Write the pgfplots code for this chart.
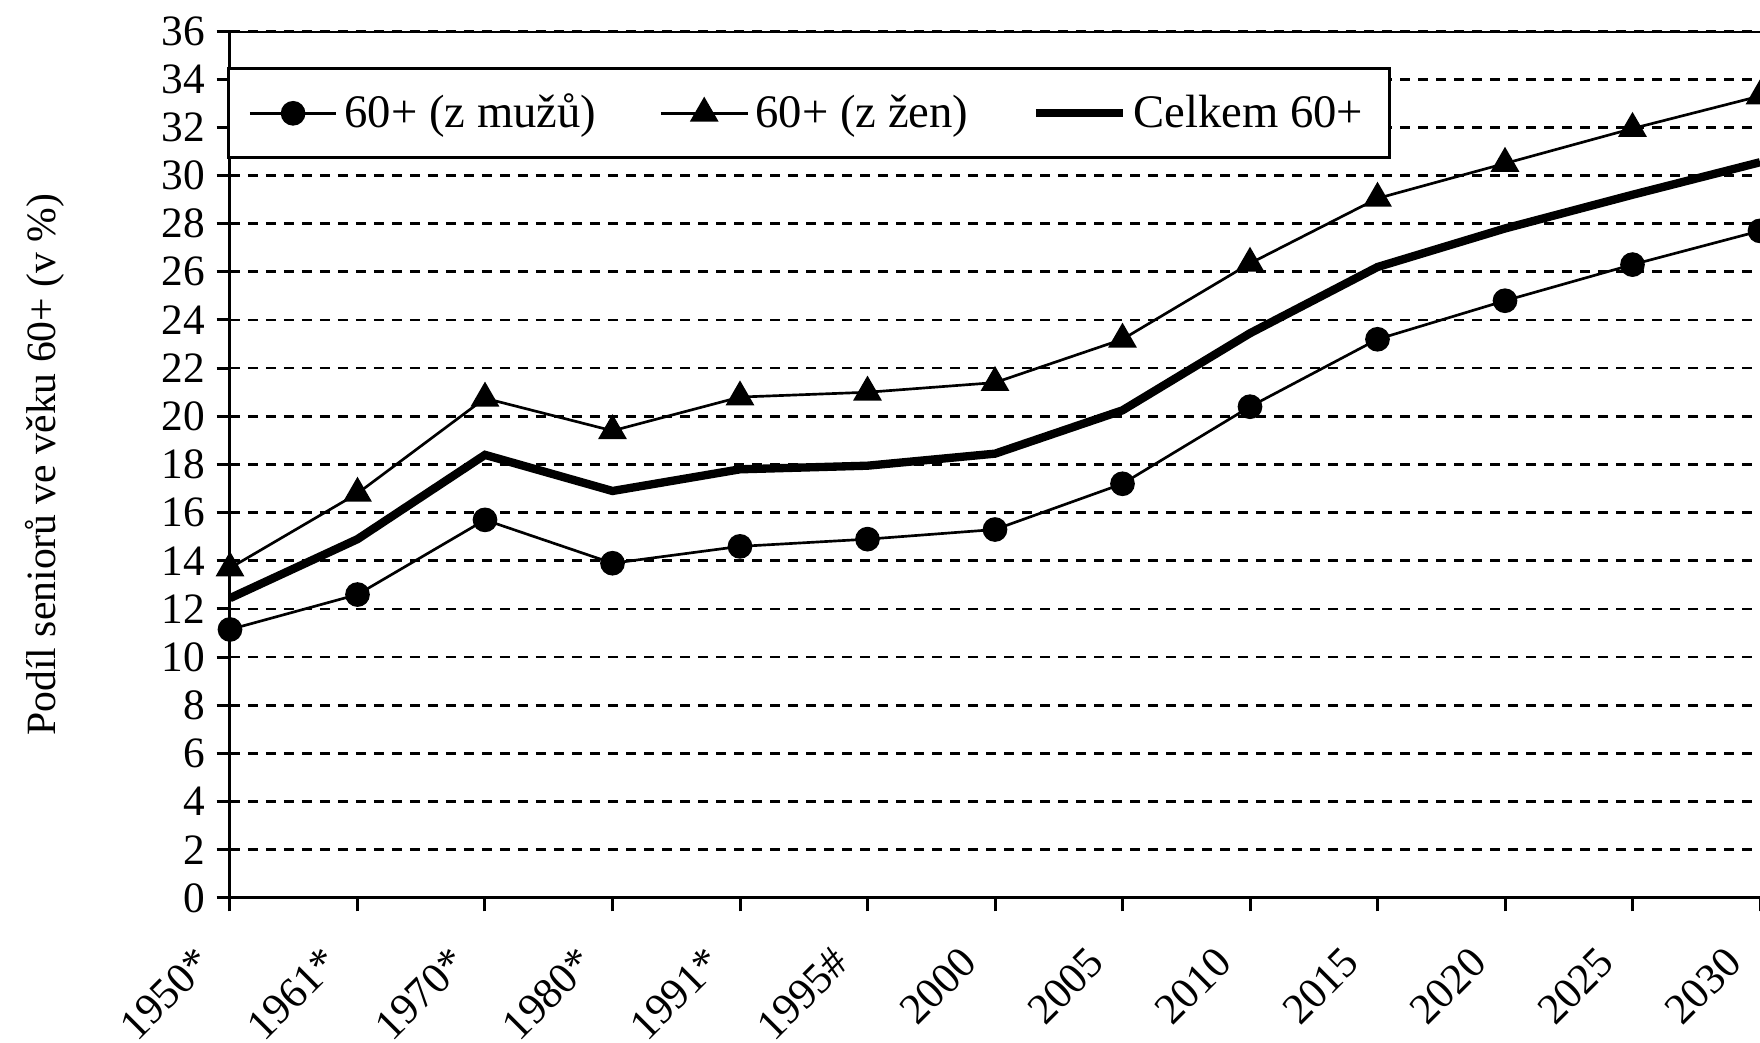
\documentclass[border=0pt]{standalone}
\usepackage{fontspec}
\setmainfont{Liberation Serif}
\usepackage{pgfplots}
\pgfplotsset{compat=1.18}

% podil senioru 60+ (v %)
\pgfplotstableread{
x muzi zeny celkem
0  11.15 13.7  12.45
1  12.6  16.8  14.9
2  15.7  20.75 18.4
3  13.9  19.4  16.9
4  14.6  20.8  17.8
5  14.9  21.0  17.95
6  15.3  21.4  18.45
7  17.2  23.2  20.25
8  20.4  26.35 23.45
9  23.2  29.05 26.2
10 24.8  30.5  27.8
11 26.3  31.95 29.2
12 27.7  33.3  30.55
}\seniori

\begin{document}
\begin{tikzpicture}
\begin{axis}[
    width=459pt, height=260.1pt, scale only axis,
    xmin=0, xmax=12, ymin=0, ymax=36,
    axis x line*=bottom, axis y line*=left,
    axis line style={line width=0.9pt},
    every tick/.style={black, line width=0.9pt},
    tick align=outside,
    major tick length=4pt,
    xtick={0,...,12},
    xticklabels={1950*,1961*,1970*,1980*,1991*,1995\#,2000,2005,2010,2015,2020,2025,2030},
    ytick={0,2,...,36},
    /pgf/number format/assume math mode=true,
    tick label style={font=\fontsize{13}{15}\selectfont},
    xticklabel style={rotate=45, anchor=east, xshift=-11.4pt, yshift=-3.8pt,
        font=\fontsize{13}{15}\selectfont},
    ymajorgrids,
    major grid style={line width=0.8pt, dash pattern=on 3pt off 2.4pt, black},
    ylabel={Podíl seniorů ve věku 60+ (v \%)},
    ylabel style={at={(axis description cs:-0.121,0.5)}, anchor=center,
        font=\fontsize{12.5}{14}\selectfont},
    legend columns=-1,
    legend style={at={(rel axis cs:-0.002,0.958)}, anchor=north west,
        draw=black, line width=0.9pt, fill=white,
        inner xsep=6pt, inner ysep=5.5pt,
        font=\fontsize{14}{16}\selectfont,
        /tikz/every even column/.append style={column sep=17pt}},
    legend image code/.code={\draw[mark repeat=2, mark phase=2]
        plot coordinates {(0pt,0pt) (13pt,0pt) (26pt,0pt)};},
]
\addplot[black, line width=0.8pt, mark=*, mark size=3.3pt,
    mark options={solid}] table[x=x, y=muzi] {\seniori};
\addplot[black, line width=0.8pt, mark=triangle*, mark size=4.2pt,
    mark options={solid}] table[x=x, y=zeny] {\seniori};
\addplot[black, line width=2.5pt, no marks] table[x=x, y=celkem] {\seniori};
\legend{60+ (z mužů), 60+ (z žen), Celkem 60+}
\draw[line width=0.9pt] (rel axis cs:0,1) -- (rel axis cs:1,1);
\coordinate (sw) at (rel axis cs:0,0);
\coordinate (ne) at (rel axis cs:1,1);
\end{axis}
\pgfresetboundingbox
\path[use as bounding box] ([xshift=-69pt, yshift=-43.5pt]sw) rectangle ([yshift=9.3pt]ne);
\end{tikzpicture}
\end{document}
